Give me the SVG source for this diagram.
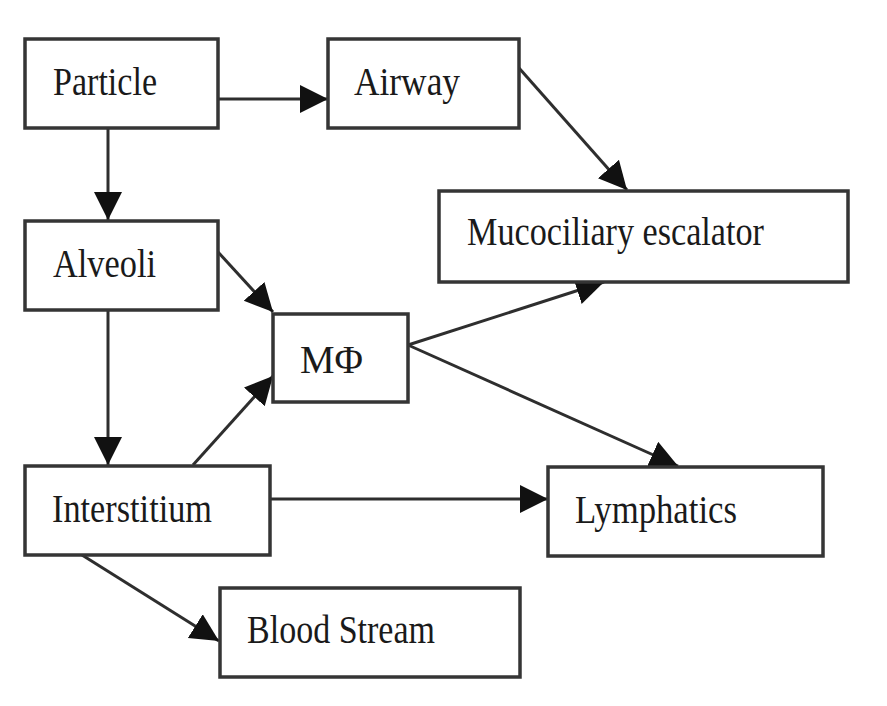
<svg xmlns="http://www.w3.org/2000/svg" width="887" height="706" viewBox="0 0 887 706">
<style>
.box{fill:#fff;stroke:#353535;stroke-width:3.5}
.lbl{font-family:"Liberation Serif","Times New Roman",serif;font-size:41px;fill:#1a1a1a}
.edge{fill:none;stroke:#2e2e2e;stroke-width:3}
</style>
<defs>
<marker id="ah" markerUnits="userSpaceOnUse" markerWidth="30" markerHeight="30" refX="28" refY="14" orient="auto" viewBox="0 0 30 30">
<path d="M0,0 L28,14 L0,28 z" fill="#111"/>
</marker>
</defs>
<rect width="887" height="706" fill="#fff"/>
<g id="connectors">
<line class="edge" x1="218" y1="99" x2="328" y2="99" marker-end="url(#ah)"/>
<line class="edge" x1="519" y1="68" x2="627" y2="190" marker-end="url(#ah)"/>
<line class="edge" x1="108" y1="128" x2="108" y2="220" marker-end="url(#ah)"/>
<line class="edge" x1="218" y1="252" x2="273" y2="312" marker-end="url(#ah)"/>
<line class="edge" x1="108" y1="310" x2="108" y2="465" marker-end="url(#ah)"/>
<line class="edge" x1="408" y1="345" x2="604" y2="282" marker-end="url(#ah)"/>
<line class="edge" x1="408" y1="345" x2="678" y2="466" marker-end="url(#ah)"/>
<line class="edge" x1="193" y1="465" x2="273" y2="376" marker-end="url(#ah)"/>
<line class="edge" x1="270" y1="499" x2="548" y2="499" marker-end="url(#ah)"/>
<line class="edge" x1="82" y1="555" x2="219" y2="641" marker-end="url(#ah)"/>
</g>
<g id="particle">
<rect class="box" x="25" y="39" width="193" height="89"/>
<text class="lbl" x="53" y="95" textLength="104" lengthAdjust="spacingAndGlyphs">Particle</text>
</g>
<g id="airway">
<rect class="box" x="328" y="39" width="191" height="89"/>
<text class="lbl" x="354" y="95" textLength="106" lengthAdjust="spacingAndGlyphs">Airway</text>
</g>
<g id="mucociliary">
<rect class="box" x="439" y="191" width="409" height="91"/>
<text class="lbl" x="467" y="245" textLength="297" lengthAdjust="spacingAndGlyphs">Mucociliary escalator</text>
</g>
<g id="alveoli">
<rect class="box" x="25" y="221" width="193" height="89"/>
<text class="lbl" x="53" y="277" textLength="103" lengthAdjust="spacingAndGlyphs">Alveoli</text>
</g>
<g id="macrophage">
<rect class="box" x="273" y="314" width="135" height="88"/>
<text class="lbl" x="300" y="373" textLength="63" lengthAdjust="spacingAndGlyphs">MΦ</text>
</g>
<g id="interstitium">
<rect class="box" x="25" y="466" width="245" height="89"/>
<text class="lbl" x="52" y="522" textLength="160" lengthAdjust="spacingAndGlyphs">Interstitium</text>
</g>
<g id="lymphatics">
<rect class="box" x="548" y="467" width="275" height="89"/>
<text class="lbl" x="575" y="523" textLength="162" lengthAdjust="spacingAndGlyphs">Lymphatics</text>
</g>
<g id="blood-stream">
<rect class="box" x="220" y="588" width="300" height="89"/>
<text class="lbl" x="247" y="643" textLength="188" lengthAdjust="spacingAndGlyphs">Blood Stream</text>
</g>
</svg>
